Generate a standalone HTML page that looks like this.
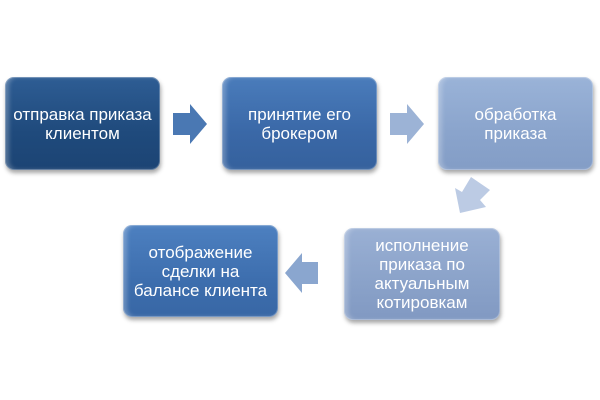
<!DOCTYPE html>
<html><head><meta charset="utf-8"><style>
body{margin:0;width:600px;height:400px;background:#fff;position:relative;overflow:hidden;font-family:"Liberation Sans",sans-serif}
.b{position:absolute;border-radius:9px;color:#fff;font-size:17px;line-height:19px;text-align:center;display:flex;align-items:center;justify-content:center;box-sizing:border-box;padding:0 4px;box-shadow:1px 3px 4px rgba(0,0,0,.35),inset 0 0 0 1px rgba(255,255,255,.25),inset 4px 0 4px rgba(255,255,255,.25)}
</style></head><body>
<div class="b" style="left:5px;top:77px;width:155px;height:93px;background:linear-gradient(#2e5d94,#1f4a7c 60%,#1c4474)">отправка приказа<br>клиентом</div>
<div class="b" style="left:222px;top:77px;width:155px;height:93px;background:linear-gradient(#4a7cbb,#3a68a7 60%,#35619d)">принятие его<br>брокером</div>
<div class="b" style="left:438px;top:77px;width:155px;height:93px;background:linear-gradient(#9ab3d8,#8aa4cc 60%,#839dc6)">обработка<br>приказа</div>
<div class="b" style="left:344px;top:228px;width:156px;height:92px;background:linear-gradient(#9ab0d4,#8aa2c9 60%,#8199c2)">исполнение<br>приказа по<br>актуальным<br>котировкам</div>
<div class="b" style="left:123px;top:225px;width:155px;height:92px;background:linear-gradient(#4d80c0,#3d6eae 60%,#3867a5)">отображение<br>сделки на<br>балансе клиента</div>
<svg width="600" height="400" style="position:absolute;left:0;top:0">
<polygon points="173,113 190,113 190,104 207,124 190,144 190,135 173,135" fill="#4a78b3"/>
<polygon points="390,113 407,113 407,104 424,124 407,144 407,135 390,135" fill="#9cb3d6"/>
<polygon points="471,177 490,190 480,200 486,207 460,213 455,188 462,192" fill="#bccbe4"/>
<polygon points="318,262 302,262 302,253 285,273 302,293 302,284 318,284" fill="#8aa6cf"/>
</svg>
</body></html>
